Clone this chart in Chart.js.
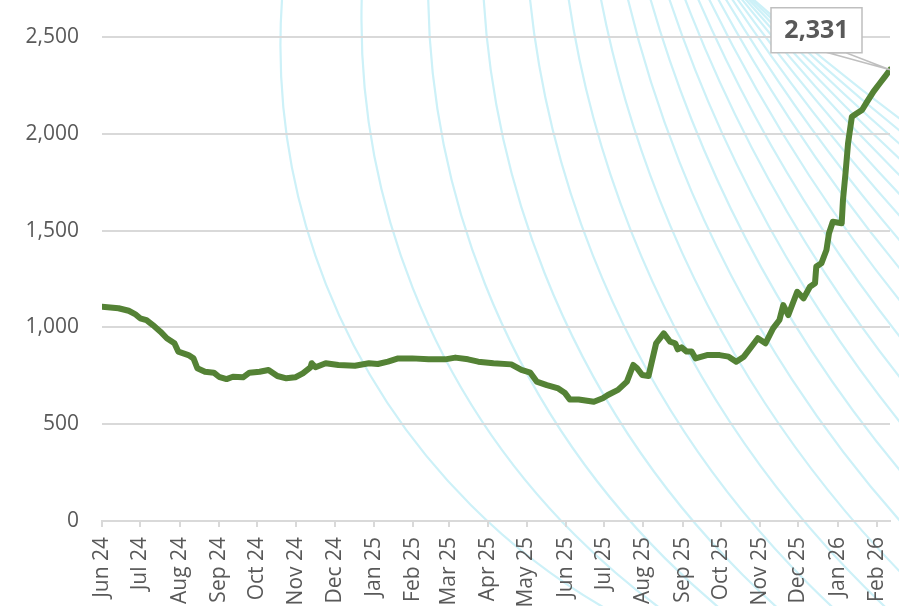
<!DOCTYPE html>
<html>
<head>
<meta charset="utf-8">
<script src="https://cdn.jsdelivr.net/npm/chart.js@4.4.1/dist/chart.umd.min.js"></script>
<style>
  html, body { margin: 0; padding: 0; background: #fff; }
  #wrap { width: 899px; height: 606px; }
</style>
</head>
<body>
<div id="wrap"><canvas id="mycanvas" width="899" height="606"></canvas></div>
<script>
// series
var dates = [
  '2024-06-01','2024-06-14','2024-06-22','2024-06-27','2024-07-01','2024-07-06','2024-07-11','2024-07-17',
  '2024-07-22','2024-07-28','2024-07-31','2024-08-08','2024-08-12','2024-08-15','2024-08-21','2024-08-28',
  '2024-09-01','2024-09-07','2024-09-12','2024-09-20','2024-09-25','2024-10-03','2024-10-10','2024-10-17',
  '2024-10-24','2024-10-31','2024-11-06','2024-11-12','2024-11-13','2024-11-16','2024-11-24','2024-12-04',
  '2024-12-17','2024-12-28','2025-01-04','2025-01-12','2025-01-20','2025-01-31','2025-02-13','2025-02-26',
  '2025-03-06','2025-03-16','2025-03-24','2025-04-05','2025-04-19','2025-04-27','2025-05-04','2025-05-09',
  '2025-05-17','2025-05-26','2025-05-31','2025-06-04','2025-06-11','2025-06-23','2025-06-30','2025-07-04',
  '2025-07-12','2025-07-19','2025-07-24','2025-07-27','2025-07-31','2025-08-05','2025-08-07','2025-08-11',
  '2025-08-17','2025-08-22','2025-08-26','2025-08-28','2025-08-31','2025-09-04','2025-09-08','2025-09-11',
  '2025-09-20','2025-09-30','2025-10-07','2025-10-13','2025-10-19','2025-10-26','2025-10-30','2025-11-05',
  '2025-11-11','2025-11-16','2025-11-19','2025-11-23','2025-11-30','2025-12-05','2025-12-10','2025-12-14',
  '2025-12-15','2025-12-19','2025-12-23','2025-12-25','2025-12-28','2026-01-04','2026-01-05','2026-01-07',
  '2026-01-09','2026-01-12','2026-01-16','2026-01-20','2026-01-24','2026-01-29','2026-02-03','2026-02-07',
  '2026-02-11'
];
var values = [
  1107,1099,1086,1069,1047,1038,1012,978,
  944,918,875,857,840,789,771,766,
  745,733,745,742,766,771,780,749,
  737,742,763,794,815,794,815,806,
  802,815,811,823,840,840,835,835,
  844,835,823,815,809,780,766,720,
  702,685,663,628,628,616,634,651,
  677,720,806,789,754,749,806,918,
  969,926,918,887,897,875,875,840,
  857,857,849,823,849,909,944,918,
  995,1038,1115,1064,1184,1150,1210,1228,
  1314,1331,1400,1486,1546,1538,1658,1796,
  1951,2088,2106,2123,2166,2218,2261,2295,
  2331
];

// axis
var tickDates = [
  '2024-06-01','2024-07-01','2024-08-01','2024-09-01','2024-10-01','2024-11-01','2024-12-01',
  '2025-01-01','2025-02-01','2025-03-01','2025-04-01','2025-05-01','2025-06-01','2025-07-01',
  '2025-08-01','2025-09-01','2025-10-01','2025-11-01','2025-12-01','2026-01-01','2026-02-01'
];
var tickLabels = [
  'Jun 24','Jul 24','Aug 24','Sep 24','Oct 24','Nov 24','Dec 24',
  'Jan 25','Feb 25','Mar 25','Apr 25','May 25','Jun 25','Jul 25',
  'Aug 25','Sep 25','Oct 25','Nov 25','Dec 25','Jan 26','Feb 26'
];
var yTicks = [0, 500, 1000, 1500, 2000, 2500];

var start = Date.parse(dates[0]);
function dayOf(d) {
  return (Date.parse(d) - start) / 86400000;
}

var points = [];
for (var i in dates) {
  points.push({x: dayOf(dates[i]), y: values[i]});
}
var tickDays = tickDates.map(dayOf);

Chart.defaults.font.family = "'Open Sans', sans-serif";
Chart.defaults.color = '#595959';

// background swirl of thin cyan arcs
var arcsPlugin = {
  id: 'arcs',
  beforeDraw: function(chart) {
    var ctx = chart.ctx;
    ctx.save();
    ctx.strokeStyle = '#cdf1f8';
    ctx.lineWidth = 2.2;
    for (var k = 0; k < 22; k++) {
      var xTop = 765 - 483 * Math.pow(0.835, k);
      var th = (-4 + 2.5 * k) * Math.PI / 180;
      var r = 650 + 80 * k;
      var cx = xTop + r * Math.cos(th);
      var cy = -r * Math.sin(th);
      ctx.beginPath();
      ctx.arc(cx, cy, r, 0, Math.PI * 2);
      ctx.stroke();
    }
    ctx.restore();
  }
};

// callout box on the last value
var calloutPlugin = {
  id: 'callout',
  afterDraw: function(chart) {
    var ctx = chart.ctx;
    var last = points[points.length - 1];
    var px = chart.scales.x.getPixelForValue(last.x);
    var py = chart.scales.y.getPixelForValue(last.y);
    var left = px - 119, right = px - 28, top = py - 62, bottom = py - 17;
    ctx.save();
    ctx.fillStyle = '#ffffff';
    ctx.strokeStyle = '#bfbfbf';
    ctx.lineWidth = 1.5;
    ctx.beginPath();
    ctx.moveTo(px - 62, bottom);
    ctx.lineTo(px, py);
    ctx.lineTo(px - 44, bottom);
    ctx.closePath();
    ctx.fill();
    ctx.stroke();
    ctx.beginPath();
    ctx.rect(left, top, right - left, bottom - top);
    ctx.fill();
    ctx.stroke();
    ctx.fillStyle = '#595959';
    ctx.font = "bold 25px 'Open Sans', sans-serif";
    ctx.textAlign = 'center';
    ctx.textBaseline = 'middle';
    ctx.fillText(last.y.toLocaleString('en-US'), (left + right) / 2, (top + bottom) / 2 + 1);
    ctx.restore();
  }
};

var ctx = document.getElementById('mycanvas');
var lineGraph = new Chart(ctx, {
  type: 'line',
  data: {
    datasets: [{
      data: points,
      borderColor: '#548235',
      borderWidth: 6,
      pointRadius: 0,
      tension: 0,
      borderJoinStyle: 'round',
      borderCapStyle: 'round'
    }]
  },
  options: {
    responsive: false,
    devicePixelRatio: 1,
    animation: false,
    layout: { padding: { top: 37, right: 9, left: 0, bottom: 0 } },
    plugins: { legend: { display: false }, tooltip: { enabled: false } },
    scales: {
      x: {
        type: 'linear',
        min: 0,
        max: points[points.length - 1].x,
        afterBuildTicks: function(scale) {
          scale.ticks = tickDays.map(function(v) { return {value: v}; });
        },
        afterFit: function(scale) {
          scale.height = 85;
          scale.paddingLeft = 0;
          scale.paddingRight = 0;
        },
        ticks: {
          autoSkip: false,
          maxRotation: 90,
          minRotation: 90,
          padding: 10,
          font: { size: 21 },
          color: '#595959',
          callback: function(value) {
            var idx = tickDays.indexOf(value);
            return idx >= 0 ? tickLabels[idx] : '';
          }
        },
        grid: {
          drawOnChartArea: false,
          drawTicks: true,
          tickLength: 6,
          color: '#d9d9d9',
          lineWidth: 2
        },
        border: { display: true, color: '#d9d9d9', width: 2 }
      },
      y: {
        min: 0,
        max: 2500,
        afterBuildTicks: function(scale) {
          scale.ticks = yTicks.map(function(v) { return {value: v}; });
        },
        afterFit: function(scale) { scale.width = 102; },
        ticks: {
          padding: 23,
          font: { size: 21 },
          color: '#595959',
          callback: function(value) { return value.toLocaleString('en-US'); }
        },
        grid: { color: '#d9d9d9', lineWidth: 2, drawTicks: false },
        border: { display: false }
      }
    }
  },
  plugins: [arcsPlugin, calloutPlugin]
});
</script>
</body>
</html>
